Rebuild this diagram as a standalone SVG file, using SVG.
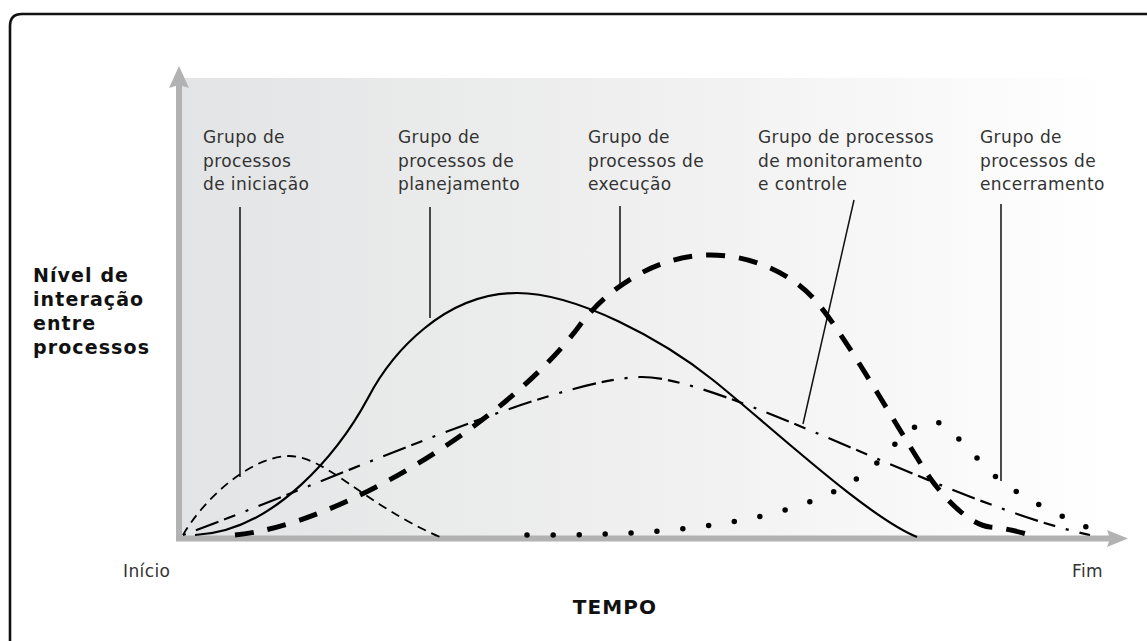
<svg xmlns="http://www.w3.org/2000/svg" width="1147" height="641" viewBox="0 0 1147 641">
<style>
.lbl{font-family:"DejaVu Sans",Verdana,sans-serif;font-size:17px;fill:#333;letter-spacing:0.4px}
.ylab{font-family:"DejaVu Sans","Liberation Sans",sans-serif;font-weight:bold;font-size:19px;fill:#111;letter-spacing:1.1px}
.lead{stroke:#111;stroke-width:1.5;fill:none}
.axis{stroke:#b2b2b2;stroke-width:6;fill:none}
.curve{fill:none;stroke:#000}
</style>
<defs>
<linearGradient id="bg" x1="182" y1="0" x2="1112" y2="0" gradientUnits="userSpaceOnUse">
<stop offset="0" stop-color="#e3e4e5"/>
<stop offset="0.55" stop-color="#f1f1f1"/>
<stop offset="1" stop-color="#ffffff"/>
</linearGradient>
</defs>
<rect x="0" y="0" width="1147" height="641" fill="#fff"/>
<path d="M10,660 L10,26 Q10,14 22,14 L1170,14" fill="none" stroke="#111" stroke-width="2.6"/>
<g id="plot-area">
<rect x="182" y="78" width="930" height="458" fill="url(#bg)"/>
</g>
<g id="axes">
<line class="axis" x1="179" y1="541" x2="179" y2="84"/>
<polygon points="169,88 179,66 189,88 179,85" fill="#b2b2b2"/>
<line class="axis" x1="176" y1="538.5" x2="1112" y2="538.5"/>
<polygon points="1107,530 1128,538.5 1107,547 1110,538.5" fill="#b2b2b2"/>
</g>
<g id="y-label">
<text class="ylab" x="33" y="282">Nível de</text>
<text class="ylab" x="33" y="306">interação</text>
<text class="ylab" x="33" y="330">entre</text>
<text class="ylab" x="33" y="354">processos</text>
</g>
<g id="x-label">
<text class="lbl" x="123" y="577">Início</text>
<text class="lbl" x="1072" y="577">Fim</text>
<text class="ylab" x="615" y="614" text-anchor="middle" style="font-size:20px">TEMPO</text>
</g>
<g id="iniciacao">
<text class="lbl" x="203" y="143">Grupo de</text>
<text class="lbl" x="203" y="167">processos</text>
<text class="lbl" x="203" y="190">de iniciação</text>
</g>
<g id="planejamento">
<text class="lbl" x="398" y="143">Grupo de</text>
<text class="lbl" x="398" y="167">processos de</text>
<text class="lbl" x="398" y="190">planejamento</text>
</g>
<g id="execucao">
<text class="lbl" x="588" y="143">Grupo de</text>
<text class="lbl" x="588" y="167">processos de</text>
<text class="lbl" x="588" y="190">execução</text>
</g>
<g id="monitoramento">
<text class="lbl" x="758" y="143">Grupo de processos</text>
<text class="lbl" x="758" y="167">de monitoramento</text>
<text class="lbl" x="758" y="190">e controle</text>
</g>
<g id="encerramento">
<text class="lbl" x="980" y="143">Grupo de</text>
<text class="lbl" x="980" y="167">processos de</text>
<text class="lbl" x="980" y="190">encerramento</text>
</g>
<g id="connectors">
<line class="lead" x1="240" y1="207" x2="240" y2="477"/>
<line class="lead" x1="430" y1="207" x2="430" y2="318"/>
<line class="lead" x1="620" y1="206" x2="620" y2="285"/>
<line class="lead" x1="854" y1="200" x2="803" y2="424"/>
<line class="lead" x1="1001" y1="204" x2="1001" y2="481"/>
<path id="c-iniciacao" class="curve" stroke-width="1.8" stroke-dasharray="9 6" d="M183,535 C200,505 245,458 288,456 C325,455 365,505 440,537"/>
<path id="c-planejamento" class="curve" stroke-width="2.2" d="M195,535 C275,532 340,450 368,398 C392,352 445,293 517,293 C577,293 663,340 713,380 C768,424 867,517 917,537"/>
<path id="c-execucao" class="curve" stroke-width="5" stroke-dasharray="19 14" d="M235,535 C340,525 510,420 580,325 C610,285 660,255 710,255 C750,255 790,272 815,300 C845,334 900,433 930,478 C945,499 970,525 990,527 C1005,528 1020,532 1030,535"/>
<path id="c-monitoramento" class="curve" stroke-width="2.2" stroke-dasharray="3 11 24 6 12 11" d="M183,535 C333,480 550,380 640,377 C720,375 950,505 1090,535"/>
<path id="c-encerramento" class="curve" stroke-width="5.5" stroke-linecap="round" stroke-dasharray="0 26" d="M527,535 C720,537 830,510 880,460 C898,441 915,421 933,421 C948,421 981,466 1001,481 C1030,503 1070,520 1100,533"/>
</g>
</svg>
